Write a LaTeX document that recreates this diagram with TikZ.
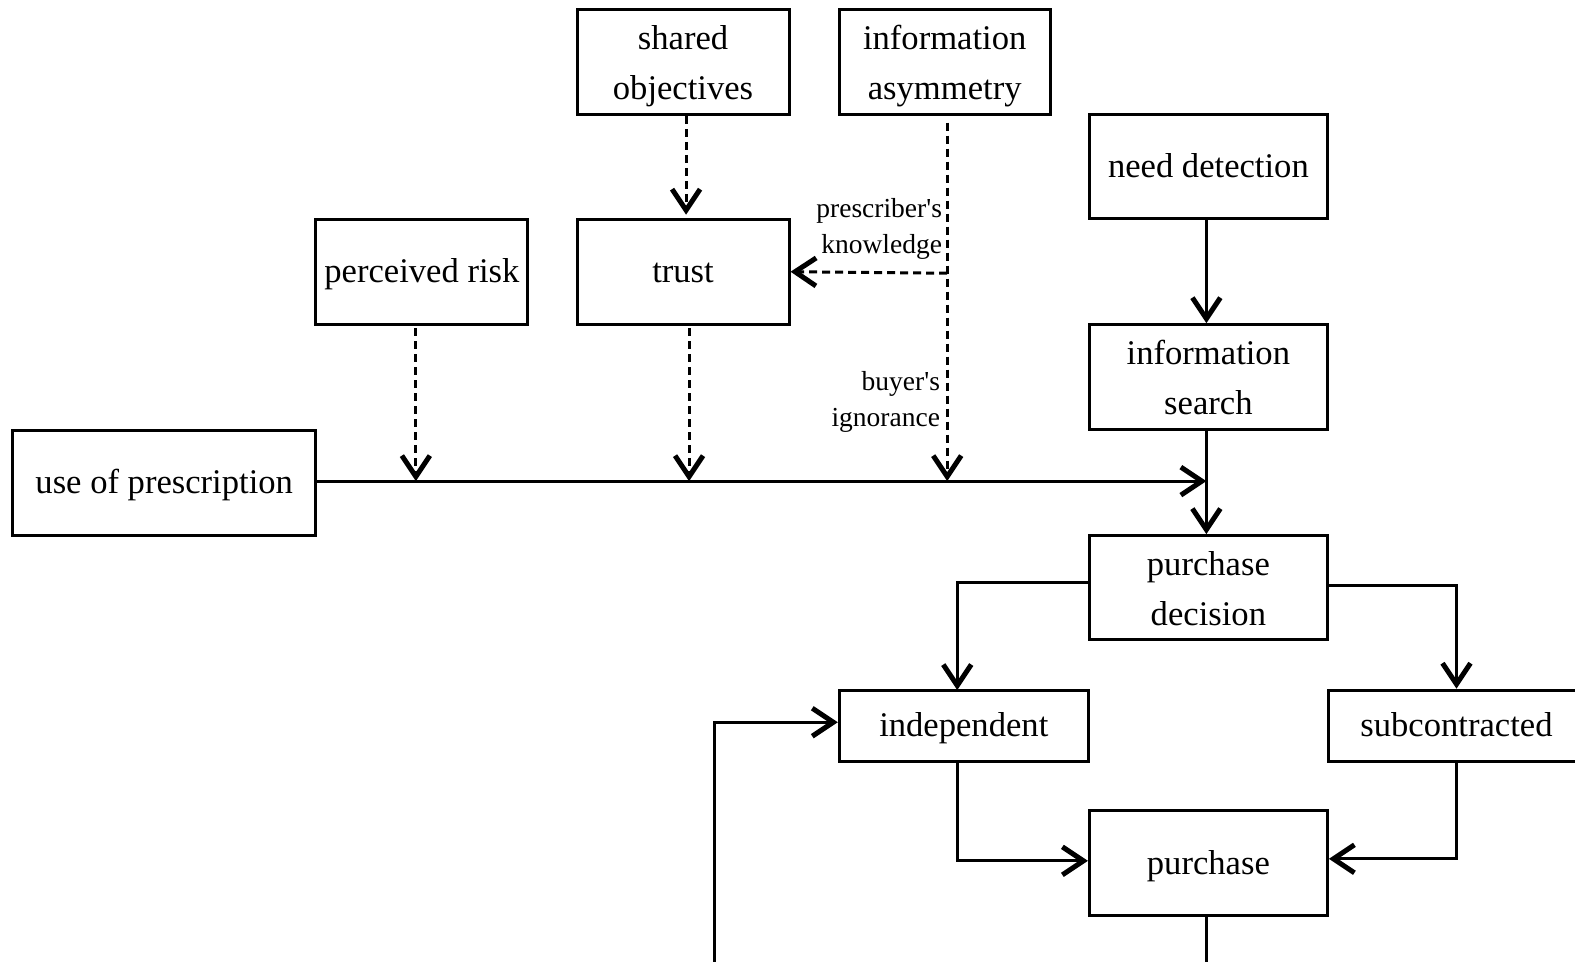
\documentclass[tikz,border=0pt]{standalone}
\usepackage{fontspec}
\setmainfont{Liberation Serif}
\usetikzlibrary{arrows.meta,calc}
\newcommand{\tl}{\rule{0pt}{33pt}}
\newcommand{\bl}{\rule[-7.5pt]{0pt}{7.5pt}}
\newcommand{\ol}{\rule[-7.5pt]{0pt}{37.5pt}}
\begin{document}
\begin{tikzpicture}[x=1.0045pt,y=-1.0045pt,
  box/.style={draw, line width=3pt, align=center, inner sep=0pt,
    font=\fontsize{34.6}{50}\selectfont},
  lbl/.style={align=right, inner sep=0pt, font=\fontsize{27.5}{36}\selectfont},
  conn/.style={line width=2.8pt},
  arr/.style={conn, -{Straight Barb[length=21pt,width=28pt,line width=5pt]}},
  dsh/.style={line width=3pt, dash pattern=on 8pt off 5pt}
]
\clip (0,0) rectangle (1568,957);
\fill[white] (0,0) rectangle (1568,957);

\node[box, minimum width=212, minimum height=105] (so) at (680,61.5) {\tl shared\\objectives\bl};
\node[box, minimum width=211, minimum height=105] (ia) at (940.5,61.5) {\tl information\\asymmetry\bl};
\node[box, minimum width=238, minimum height=104] (nd) at (1203,166) {\ol need detection};
\node[box, minimum width=212, minimum height=105] (pr) at (420,270.5) {\ol perceived risk};
\node[box, minimum width=212, minimum height=105] (tr) at (680,270.5) {\ol trust};
\node[box, minimum width=238, minimum height=105] (is) at (1203,375.5) {\tl information\\search\bl};
\node[box, minimum width=303, minimum height=105] (up) at (163.5,480.5) {\ol use of prescription};
\node[box, minimum width=238, minimum height=104] (pd) at (1203,585) {\tl purchase\\decision\bl};
\node[box, minimum width=249, minimum height=71] (ind) at (959.5,722.5) {\ol independent};
\node[box, minimum width=256, minimum height=71] (sub) at (1450,722.5) {\ol subcontracted};
\node[box, minimum width=238, minimum height=105] (pu) at (1203,859.5) {\ol purchase};

\node[lbl, anchor=east] (pk) at (938,228) {prescriber\textquotesingle s\\knowledge};
\node[lbl, anchor=east] (bi) at (936,400) {buyer\textquotesingle s\\ignorance};

\coordinate (J) at (1201,479);
\coordinate (iaS) at (943,122);
\coordinate (K) at (943,272);
\coordinate (B1) at (1201,961);
\coordinate (B2) at (711,961);
\coordinate (prS) at (414,327);
\coordinate (trS) at (686,327);
\coordinate (pdW) at (1084,580);
\coordinate (indN) at (953,687);
\coordinate (indS) at (953,758);

% dashed influences
\draw[arr,dsh] ($(so.south)+(3,0)$) -- ($(tr.north)+(3,-3)$);
\draw[arr,dsh] (iaS) -- (iaS |- J);
\draw[arr,dsh] (K) -- (tr.east);
\draw[arr,dsh] (prS) -- (prS |- J);
\draw[arr,dsh] (trS) -- (trS |- J);

% main flow
\draw[arr] ($(up.east)+(0,-1.5)$) -- (J);
\draw[arr] ($(nd.south)+(-2,0)$) -- ($(is.north)+(-2,0)$);
\draw[arr] ($(is.south)+(-2,0)$) -- ($(pd.north)+(-2,0)$);
\draw[arr] (pdW) -| (indN);
\draw[arr] ($(pd.east)+(0,-2)$) -| (sub.north);
\draw[arr] (indS) |- ($(pu.west)+(0,-2.5)$);
\draw[arr] (sub.south) |- ($(pu.east)+(0,-4.5)$);
\draw[conn] ($(pu.south)+(-2,0)$) -- (B1);
\draw[arr] (B2) |- ($(ind.west)+(0,-3.5)$);
\end{tikzpicture}
\end{document}
